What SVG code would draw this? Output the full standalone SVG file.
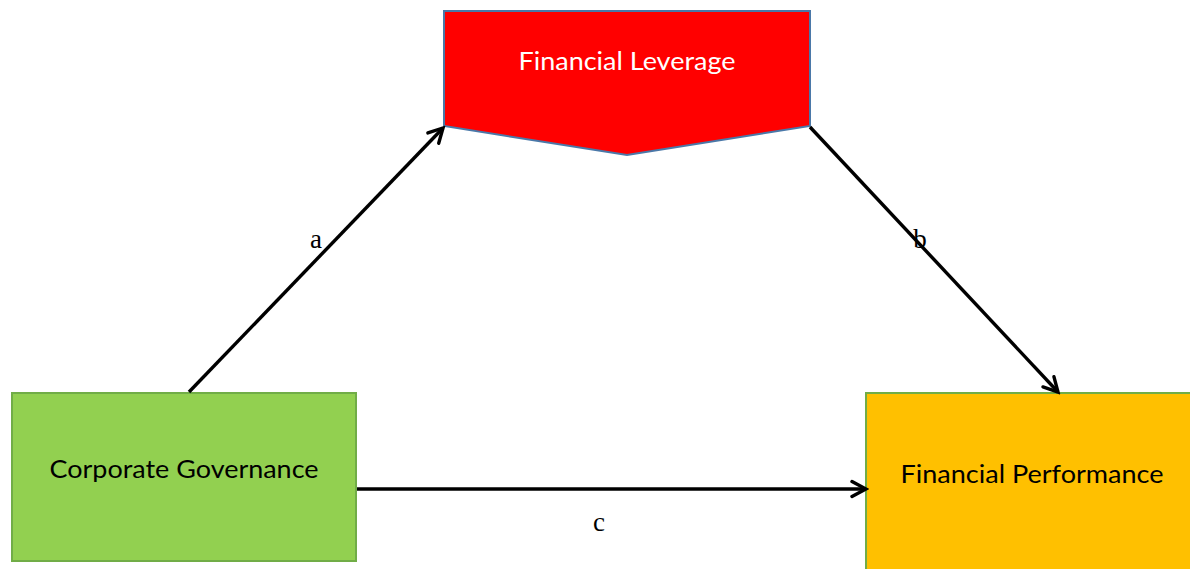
<svg xmlns="http://www.w3.org/2000/svg" width="1190" height="569" viewBox="0 0 1190 569">
<style>
.node-text{font-family:Lato,"Open Sans","Liberation Sans",sans-serif;font-size:25px;text-anchor:middle}
.lbl{font-family:"Liberation Serif","Times New Roman",serif;font-size:27px;fill:#000;text-anchor:middle}
.conn{stroke:#000;stroke-width:3.4;fill:none}
</style>
<defs>
<marker id="arrow" markerUnits="userSpaceOnUse" viewBox="0 0 20 20" markerWidth="20" markerHeight="20" refX="17" refY="10" orient="auto">
<path d="M3,2.5 L17,10 L3,17.5" fill="none" stroke="#000" stroke-width="3.4" stroke-linecap="round" stroke-linejoin="miter"/>
</marker>
</defs>
<rect width="1190" height="569" fill="#fff"/>
<g id="financial-leverage">
<polygon points="444,11 810,11 810,126 627,155 444,126" fill="#ff0000" stroke="#4a78a8" stroke-width="2"/>
<text class="node-text" x="627" y="70" fill="#fff" textLength="217" lengthAdjust="spacingAndGlyphs">Financial Leverage</text>
</g>
<g id="corporate-governance">
<rect x="12" y="393" width="344" height="168" fill="#92d050" stroke="#71ad47" stroke-width="2"/>
<text class="node-text" x="184" y="478" fill="#000" textLength="269" lengthAdjust="spacingAndGlyphs">Corporate Governance</text>
</g>
<g id="financial-performance">
<rect x="866" y="393" width="330" height="185" fill="#ffc000" stroke="#71ad47" stroke-width="2"/>
<text class="node-text" x="1032" y="483" fill="#000" textLength="263" lengthAdjust="spacingAndGlyphs">Financial Performance</text>
</g>
<g id="connectors">
<line class="conn" x1="189" y1="392" x2="443" y2="128" marker-end="url(#arrow)"/>
<line class="conn" x1="810" y1="127" x2="1058" y2="392" marker-end="url(#arrow)"/>
<line class="conn" x1="357" y1="489" x2="866" y2="489" marker-end="url(#arrow)"/>
<text class="lbl" x="316" y="248">a</text>
<text class="lbl" x="920" y="248">b</text>
<text class="lbl" x="599" y="531">c</text>
</g>
</svg>
